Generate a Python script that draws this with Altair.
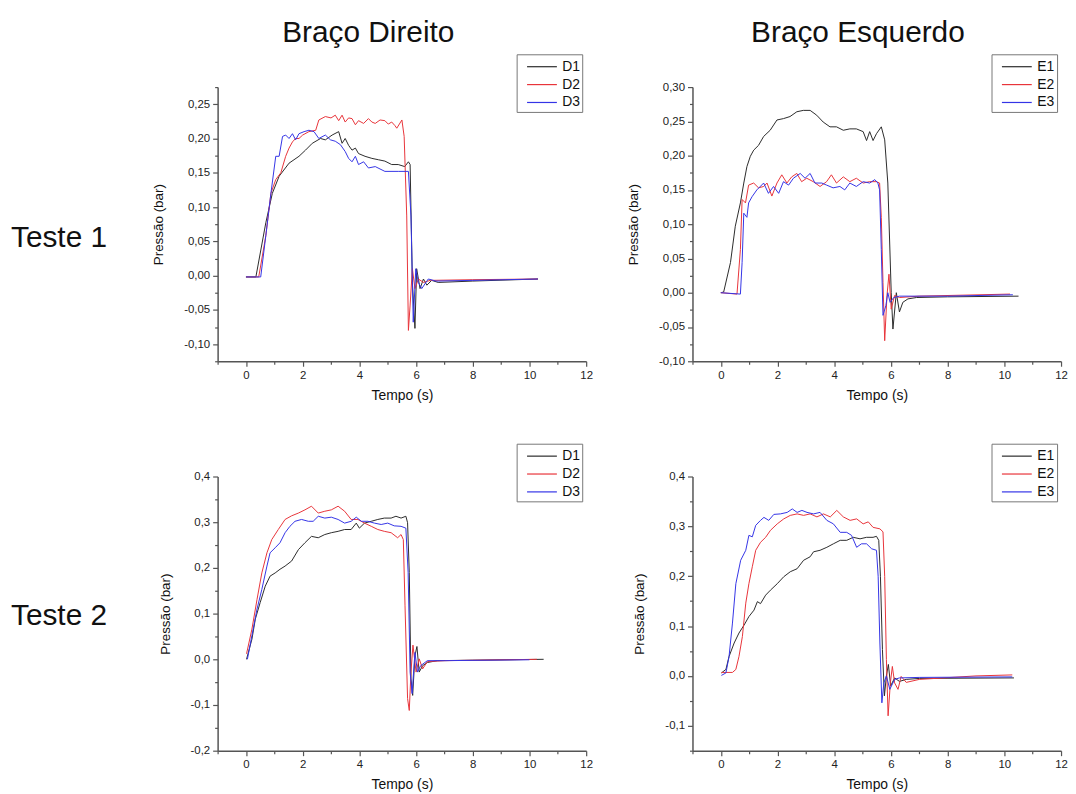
import altair as alt
import pandas as pd

# ---------------- data ----------------
# Teste 1 - Braço Direito
t1d_D1_t = [0, 0.35, 0.7, 0.93, 1.17, 1.52, 1.87, 2.1, 2.34, 2.63, 2.8, 3.04, 3.27, 3.39, 3.5, 3.62, 3.74, 3.86, 3.97, 4.2, 4.44, 4.67, 4.9, 5.14, 5.37, 5.6, 5.73, 5.79, 5.87, 5.96, 6.02, 6.14, 6.26, 6.38, 6.55, 6.78, 8.0, 10.3]
t1d_D1_y = [-0.002, -0.002, 0.077, 0.12, 0.145, 0.164, 0.174, 0.183, 0.193, 0.2, 0.198, 0.205, 0.21, 0.193, 0.2, 0.19, 0.183, 0.186, 0.178, 0.174, 0.171, 0.169, 0.167, 0.162, 0.162, 0.159, 0.166, 0.162, -0.01, -0.077, 0.01, -0.019, -0.005, -0.014, -0.007, -0.01, -0.008, -0.005]
t1d_D2_t = [0, 0.45, 0.7, 0.88, 1.05, 1.23, 1.4, 1.52, 1.64, 1.75, 1.87, 2.0, 2.22, 2.46, 2.57, 2.8, 3.0, 3.15, 3.27, 3.39, 3.5, 3.62, 3.74, 3.86, 3.97, 4.15, 4.32, 4.44, 4.56, 4.73, 4.9, 5.02, 5.14, 5.25, 5.32, 5.5, 5.58, 5.67, 5.73, 5.79, 5.87, 5.96, 6.08, 6.26, 6.5, 8.0, 10.3]
t1d_D2_y = [-0.002, -0.002, 0.058, 0.12, 0.14, 0.15, 0.174, 0.186, 0.195, 0.2, 0.2, 0.205, 0.21, 0.212, 0.227, 0.232, 0.23, 0.234, 0.226, 0.234, 0.224, 0.23, 0.229, 0.22, 0.226, 0.222, 0.229, 0.224, 0.222, 0.227, 0.226, 0.221, 0.224, 0.219, 0.215, 0.227, 0.203, 0.087, -0.08, -0.043, 0.01, -0.019, -0.005, -0.01, -0.007, -0.006, -0.005]
t1d_D3_t = [0, 0.52, 0.7, 0.88, 1.05, 1.17, 1.29, 1.4, 1.52, 1.64, 1.75, 1.87, 2.05, 2.22, 2.4, 2.57, 2.8, 2.98, 3.15, 3.33, 3.5, 3.62, 3.74, 3.86, 3.97, 4.15, 4.32, 4.56, 4.9, 5.37, 5.73, 5.82, 5.9, 5.99, 6.08, 6.2, 6.43, 6.7, 8.0, 10.3]
t1d_D3_y = [-0.002, -0.002, 0.058, 0.12, 0.174, 0.174, 0.203, 0.205, 0.2, 0.207, 0.198, 0.207, 0.21, 0.212, 0.21, 0.2, 0.205, 0.198, 0.196, 0.191, 0.181, 0.171, 0.166, 0.174, 0.162, 0.166, 0.157, 0.159, 0.152, 0.152, 0.152, 0.087, -0.068, 0.01, -0.01, -0.019, -0.005, -0.008, -0.007, -0.005]

# Teste 1 - Braço Esquerdo
t1e_E1_t = [0, 0.1, 0.34, 0.51, 0.69, 0.81, 0.92, 1.04, 1.16, 1.33, 1.51, 1.74, 1.98, 2.21, 2.44, 2.68, 2.91, 3.15, 3.38, 3.61, 3.85, 4.08, 4.32, 4.55, 4.78, 5.02, 5.14, 5.25, 5.37, 5.49, 5.66, 5.78, 5.89, 6.01, 6.07, 6.19, 6.3, 6.42, 6.6, 6.9, 8.0, 10.5]
t1e_E1_y = [0, 0.001, 0.044, 0.097, 0.131, 0.16, 0.184, 0.199, 0.208, 0.215, 0.228, 0.237, 0.252, 0.254, 0.257, 0.264, 0.266, 0.266, 0.259, 0.249, 0.242, 0.242, 0.237, 0.239, 0.239, 0.235, 0.222, 0.235, 0.222, 0.232, 0.242, 0.223, 0.16, 0.0, -0.053, 0.0, -0.028, -0.014, -0.009, -0.007, -0.006, -0.005]
t1e_E2_t = [0, 0.57, 0.69, 0.75, 0.87, 0.98, 1.16, 1.33, 1.51, 1.63, 1.8, 1.98, 2.15, 2.33, 2.5, 2.68, 2.85, 3.03, 3.26, 3.5, 3.73, 3.9, 4.08, 4.32, 4.55, 4.78, 5.02, 5.25, 5.49, 5.6, 5.66, 5.72, 5.78, 5.86, 5.93, 6.01, 6.13, 6.3, 7.0, 10.2]
t1e_E2_y = [0, -0.002, 0.063, 0.136, 0.131, 0.157, 0.16, 0.153, 0.155, 0.16, 0.141, 0.16, 0.172, 0.16, 0.169, 0.174, 0.162, 0.167, 0.162, 0.155, 0.162, 0.172, 0.16, 0.169, 0.162, 0.167, 0.16, 0.162, 0.162, 0.16, 0.11, 0.015, -0.07, -0.004, 0.027, -0.024, -0.004, -0.007, -0.005, -0.002]
t1e_E3_t = [0, 0.69, 0.75, 0.81, 0.92, 0.98, 1.1, 1.27, 1.51, 1.68, 1.86, 2.04, 2.21, 2.39, 2.56, 2.8, 2.97, 3.15, 3.32, 3.56, 3.73, 3.96, 4.2, 4.37, 4.55, 4.78, 5.02, 5.25, 5.43, 5.54, 5.6, 5.66, 5.72, 5.82, 5.89, 5.97, 6.1, 6.3, 8.0, 10.3]
t1e_E3_y = [0, -0.002, 0.044, 0.116, 0.11, 0.131, 0.14, 0.15, 0.16, 0.145, 0.155, 0.145, 0.162, 0.157, 0.167, 0.174, 0.167, 0.174, 0.16, 0.16, 0.157, 0.153, 0.155, 0.15, 0.16, 0.155, 0.162, 0.16, 0.165, 0.16, 0.15, 0.063, -0.033, -0.019, 0.0, -0.014, -0.007, -0.005, -0.005, -0.003]

# Teste 2 - Braço Direito
t2d_D1_t = [0.02, 0.21, 0.33, 0.5, 0.68, 0.85, 1.03, 1.2, 1.38, 1.61, 1.85, 2.08, 2.31, 2.55, 2.78, 3.01, 3.25, 3.48, 3.71, 3.89, 4.0, 4.18, 4.42, 4.65, 4.88, 5.12, 5.29, 5.47, 5.64, 5.7, 5.76, 5.82, 5.88, 5.96, 6.03, 6.11, 6.23, 6.4, 6.75, 8.0, 10.5]
t2d_D1_y = [0.0, 0.044, 0.088, 0.124, 0.16, 0.182, 0.189, 0.197, 0.204, 0.215, 0.24, 0.255, 0.269, 0.266, 0.273, 0.277, 0.28, 0.284, 0.284, 0.298, 0.287, 0.298, 0.302, 0.306, 0.309, 0.309, 0.313, 0.309, 0.313, 0.299, 0.19, -0.043, -0.079, 0.008, 0.028, -0.028, -0.014, -0.007, -0.003, -0.002, 0.0]
t2d_D2_t = [0.02, 0.21, 0.39, 0.56, 0.74, 0.91, 1.14, 1.38, 1.61, 1.85, 2.08, 2.31, 2.55, 2.78, 3.01, 3.25, 3.48, 3.71, 3.95, 4.18, 4.42, 4.65, 4.88, 5.12, 5.35, 5.47, 5.55, 5.61, 5.7, 5.76, 5.82, 5.89, 6.0, 6.11, 6.23, 6.4, 7.0, 10.26]
t2d_D2_y = [0.012, 0.066, 0.131, 0.189, 0.233, 0.262, 0.284, 0.306, 0.314, 0.32, 0.327, 0.335, 0.32, 0.324, 0.327, 0.335, 0.324, 0.306, 0.306, 0.298, 0.291, 0.284, 0.28, 0.277, 0.266, 0.273, 0.262, 0.117, -0.086, -0.112, -0.028, 0.031, -0.028, 0.001, -0.021, -0.005, -0.003, 0.0]
t2d_D3_t = [0.05, 0.21, 0.39, 0.56, 0.74, 0.85, 1.03, 1.2, 1.38, 1.55, 1.73, 1.96, 2.2, 2.37, 2.55, 2.78, 3.01, 3.25, 3.48, 3.71, 3.89, 4.07, 4.3, 4.53, 4.77, 5.0, 5.23, 5.47, 5.64, 5.72, 5.79, 5.86, 5.96, 6.05, 6.16, 6.4, 7.0, 10.0]
t2d_D3_y = [0.0, 0.052, 0.11, 0.153, 0.204, 0.233, 0.244, 0.255, 0.277, 0.291, 0.302, 0.306, 0.302, 0.302, 0.313, 0.309, 0.311, 0.306, 0.298, 0.302, 0.311, 0.302, 0.302, 0.298, 0.295, 0.298, 0.292, 0.291, 0.287, 0.19, -0.028, -0.075, 0.015, -0.028, -0.014, -0.003, -0.003, -0.001]

# Teste 2 - Braço Esquerdo
t2e_E1_t = [0.02, 0.18, 0.29, 0.47, 0.64, 0.82, 0.99, 1.17, 1.29, 1.4, 1.58, 1.75, 1.99, 2.22, 2.45, 2.69, 2.92, 3.15, 3.27, 3.5, 3.74, 3.97, 4.21, 4.44, 4.67, 4.91, 5.14, 5.37, 5.49, 5.57, 5.63, 5.7, 5.77, 5.84, 5.91, 5.99, 6.13, 6.3, 6.54, 7.0, 10.34]
t2e_E1_y = [0.006, 0.013, 0.039, 0.066, 0.086, 0.102, 0.119, 0.132, 0.149, 0.145, 0.162, 0.172, 0.185, 0.199, 0.209, 0.215, 0.232, 0.239, 0.249, 0.252, 0.258, 0.265, 0.272, 0.272, 0.278, 0.275, 0.278, 0.278, 0.28, 0.272, 0.199, 0.053, -0.04, 0.0, 0.023, -0.02, -0.004, -0.011, -0.007, -0.005, -0.004]
t2e_E2_t = [0.02, 0.41, 0.53, 0.64, 0.76, 0.88, 0.99, 1.11, 1.23, 1.4, 1.58, 1.75, 1.99, 2.22, 2.45, 2.69, 2.92, 3.15, 3.39, 3.62, 3.86, 4.09, 4.32, 4.56, 4.79, 5.02, 5.2, 5.37, 5.61, 5.72, 5.78, 5.84, 5.9, 5.98, 6.05, 6.13, 6.25, 6.36, 6.54, 7.0, 9.0, 10.28]
t2e_E2_y = [0.007, 0.007, 0.013, 0.039, 0.079, 0.146, 0.185, 0.219, 0.252, 0.268, 0.278, 0.292, 0.305, 0.315, 0.322, 0.325, 0.322, 0.325, 0.319, 0.325, 0.319, 0.332, 0.319, 0.312, 0.315, 0.305, 0.309, 0.298, 0.295, 0.289, 0.199, 0.033, -0.08, -0.014, 0.019, -0.014, -0.027, -0.001, -0.013, -0.007, 0.0, 0.002]
t2e_E3_t = [0.02, 0.18, 0.29, 0.41, 0.53, 0.7, 0.88, 0.99, 1.11, 1.23, 1.4, 1.52, 1.69, 1.87, 2.1, 2.34, 2.52, 2.69, 2.86, 3.04, 3.27, 3.5, 3.74, 3.97, 4.21, 4.44, 4.61, 4.79, 4.96, 5.14, 5.32, 5.49, 5.55, 5.61, 5.68, 5.75, 5.84, 5.96, 6.13, 6.3, 7.0, 10.28]
t2e_E3_y = [0.001, 0.006, 0.039, 0.106, 0.185, 0.232, 0.252, 0.282, 0.279, 0.302, 0.312, 0.318, 0.312, 0.324, 0.325, 0.328, 0.335, 0.328, 0.332, 0.328, 0.325, 0.328, 0.312, 0.305, 0.288, 0.288, 0.282, 0.258, 0.265, 0.265, 0.255, 0.252, 0.199, 0.066, -0.054, -0.014, 0.0, -0.027, -0.007, -0.004, -0.003, -0.002]

col_titles = ["Braço Direito", "Braço Esquerdo"]
row_titles = ["Teste 1", "Teste 2"]
names_D = ["D1", "D2", "D3"]
names_E = ["E1", "E2", "E3"]
colors = ["#2b2b2b", "#e8343a", "#3434e6"]

FONT = "Liberation Sans"
W, H = 371, 276


def frame(names, ts, ys):
    rows = []
    for n, tl, yl in zip(names, ts, ys):
        for i, (a, b) in enumerate(zip(tl, yl)):
            rows.append({"serie": n, "t": a, "p": b, "i": i})
    return pd.DataFrame(rows)


def panel(df, names, ydom, ystep, major_mult, decimals, texts):
    xvals = list(range(-1, 13))
    n = int(round((ydom[1] - ydom[0]) / ystep))
    yvals = [round(ydom[0] + k * ystep, 4) for k in range(n + 1)]
    ytest = f"abs(round(datum.value*{major_mult})) % 2 === 0"
    xaxis = alt.Axis(
        values=xvals,
        labelExpr="datum.value % 2 === 0 ? datum.label : ''",
        tickSize={"condition": {"test": "datum.value % 2 === 0", "value": 5}, "value": 3},
        title="Tempo (s)", titleFontSize=14, titleFontWeight="normal", titleFont=FONT,
        labelFontSize=11.5, labelFont=FONT, labelFlush=False, labelOverlap=False,
        grid=False, domainColor="#555", tickColor="#555", domainWidth=1.5, tickWidth=1.2,
        labelColor="#222", titleColor="#111", labelPadding=3, titlePadding=8,
    )
    yaxis = alt.Axis(
        values=yvals,
        labelExpr=f"{ytest} ? (datum.value < -1e-9 ? '-' : '') + replace(format(abs(datum.value), '.{decimals}f'), '.', ',') : ''",
        tickSize={"condition": {"test": ytest, "value": 5}, "value": 3},
        title="Pressão (bar)", titleFontSize=13.5, titleFontWeight="normal", titleFont=FONT,
        labelFontSize=11.5, labelFont=FONT, labelFlush=False, labelOverlap=False,
        grid=False, domainColor="#555", tickColor="#555", domainWidth=1.5, tickWidth=1.2,
        labelColor="#222", titleColor="#111", labelPadding=3, titlePadding=18,
    )
    lines = alt.Chart(df).mark_line(strokeWidth=1, clip=True).encode(
        x=alt.X("t:Q", scale=alt.Scale(domain=[-1, 12], nice=False, zero=False), axis=xaxis),
        y=alt.Y("p:Q", scale=alt.Scale(domain=ydom, nice=False, zero=False), axis=yaxis),
        color=alt.Color(
            "serie:N",
            scale=alt.Scale(domain=names, range=colors),
            legend=alt.Legend(
                orient="none", legendX=301, legendY=-33, title=None,
                symbolType="M-1.58,0L1.58,0", symbolSize=361, symbolStrokeWidth=1.2,
                symbolFillColor="transparent",
                labelFontSize=14, labelFont=FONT, labelColor="#111",
                strokeColor="#777", fillColor="white", padding=2,
                rowPadding=0, labelOffset=10, symbolOffset=13,
            ),
        ),
        order="i:Q",
        detail="serie:N",
    )
    layers = [lines]
    for txt, xv, yv in texts:
        layers.append(
            alt.Chart(pd.DataFrame({"label": [txt]})).mark_text(
                fontSize=30, font=FONT, align="left", baseline="alphabetic", color="#111"
            ).encode(text="label:N", x=alt.value(xv), y=alt.value(yv))
        )
    return alt.layer(*layers).properties(width=W, height=H)


p_tl = panel(frame(names_D, [t1d_D1_t, t1d_D2_t, t1d_D3_t], [t1d_D1_y, t1d_D2_y, t1d_D3_y]),
             names_D, [-0.125, 0.275], 0.025, 40, 2,
             [(col_titles[0], 65, -45), (row_titles[0], -208, 161)])
p_tr = panel(frame(names_E, [t1e_E1_t, t1e_E2_t, t1e_E3_t], [t1e_E1_y, t1e_E2_y, t1e_E3_y]),
             names_E, [-0.1, 0.3], 0.025, 40, 2,
             [(col_titles[1], 59, -45)])
p_bl = panel(frame(names_D, [t2d_D1_t, t2d_D2_t, t2d_D3_t], [t2d_D1_y, t2d_D2_y, t2d_D3_y]),
             names_D, [-0.2, 0.4], 0.05, 20, 1,
             [(row_titles[1], -208, 149)])
p_br = panel(frame(names_E, [t2e_E1_t, t2e_E2_t, t2e_E3_t], [t2e_E1_y, t2e_E2_y, t2e_E3_y]),
             names_E, [-0.15, 0.4], 0.05, 20, 1, [])

chart = alt.concat(p_tl, p_tr, p_bl, p_br, columns=2, spacing={"row": 116, "column": 107}, bounds="flush").resolve_scale(
    color="independent", x="independent", y="independent"
).resolve_legend(color="independent").properties(
    padding={"left": 3, "top": 8, "right": 0, "bottom": 0}
).configure(font=FONT, background="white").configure_view(stroke=None, strokeWidth=0)

chart.save("out.html", embed_options={"renderer": "svg", "actions": False})
